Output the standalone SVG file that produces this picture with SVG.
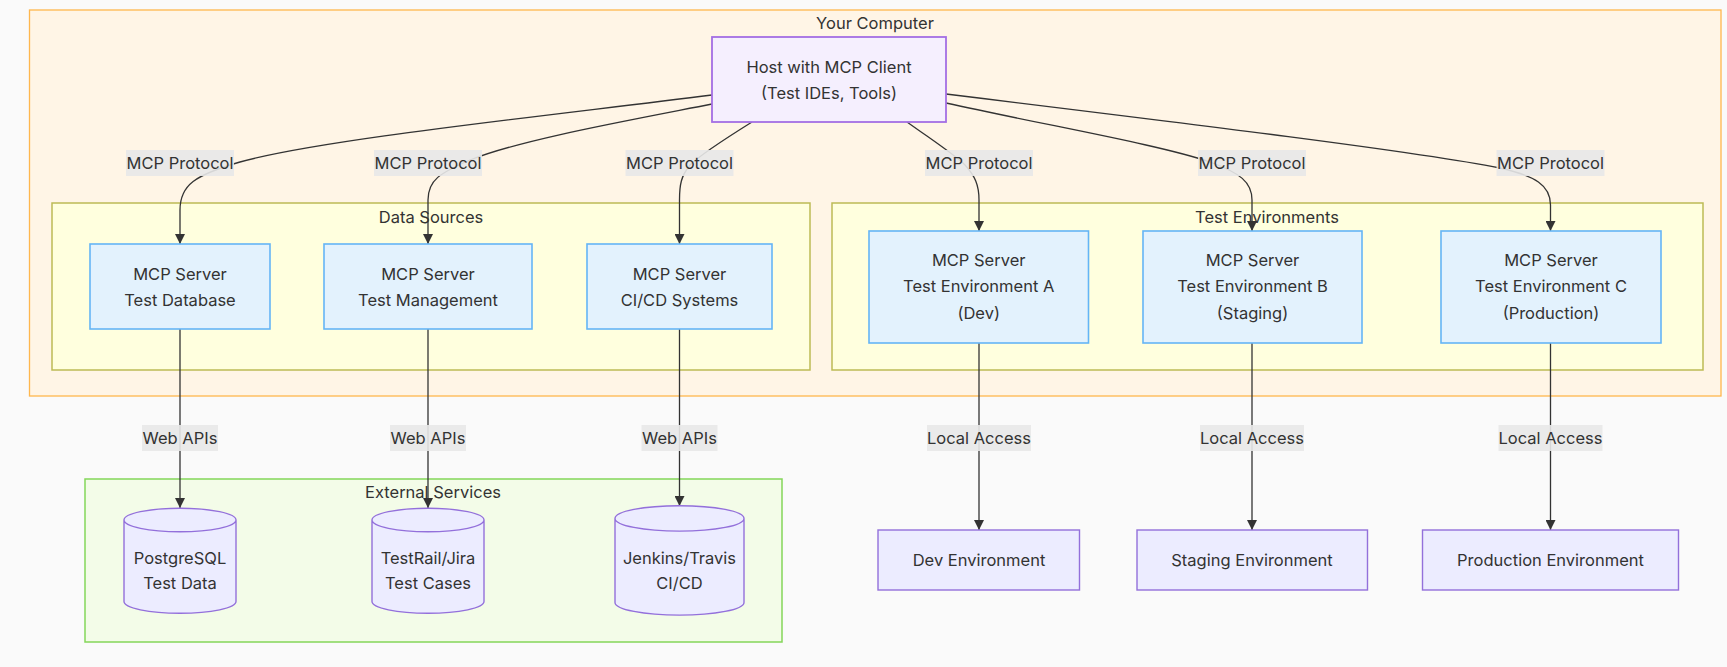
<svg xmlns="http://www.w3.org/2000/svg" width="1727" height="667" viewBox="0 0 1727 667">
<defs>
<marker id="arrow" viewBox="0 0 10 10" refX="10" refY="5" markerUnits="userSpaceOnUse" markerWidth="10" markerHeight="10" orient="auto">
<path d="M0,0 L10,5 L0,10 z" fill="#333"/>
</marker>
</defs>
<style>
text{font-family:Inter,"Noto Sans","Liberation Sans",sans-serif;font-size:16.5px;fill:#333;text-anchor:middle;dominant-baseline:central}
.edge{fill:none;stroke:#333;stroke-width:1.3;marker-end:url(#arrow)}
.lbl{fill:#e8e8e8;opacity:0.9}
.srv{fill:#e3f2fd;stroke:#64b5f6;stroke-width:1.6}
.ext{fill:#ececff;stroke:#9370db;stroke-width:1.4}
.cl{fill:#ffffde;stroke:#bdbb55;stroke-width:1.5}
</style>
<rect width="1727" height="667" fill="#fafafa"/>
<g id="cluster-your-computer">
<rect x="29.5" y="10" width="1691.5" height="386" fill="#fff5e6" stroke="#ffb74d" stroke-width="1.3"/>
<text x="875" y="23">Your Computer</text>
</g>
<g id="cluster-data-sources">
<rect class="cl" x="52" y="203" width="758" height="167"/>
<text x="431" y="217">Data Sources</text>
</g>
<g id="cluster-test-environments">
<rect class="cl" x="832" y="203" width="871" height="167"/>
<text x="1267" y="217">Test Environments</text>
</g>
<g id="cluster-external-services">
<rect x="85" y="479" width="697" height="163" fill="#f3fce8" stroke="#84d65a" stroke-width="1.5"/>
<text x="433" y="492">External Services</text>
</g>
<g id="connectors">
<path class="edge" d="M712,95 C520,119 320,140 240,162 C195,175 180,185 180,210 L180,244"/>
<path class="edge" d="M712,104 C620,122 520,140 470,160 C440,173 428,180 428,200 L428,244"/>
<path class="edge" d="M752,122 C720,142 700,155 690,165 C681,176 679.5,185 679.5,200 L679.5,244"/>
<path class="edge" d="M907,122 C935,142 955,155 965,165 C975,176 979,185 979,200 L979,231"/>
<path class="edge" d="M946,103 C1060,128 1160,145 1210,162 C1240,173 1252,182 1252,200 L1252,231"/>
<path class="edge" d="M946,94 C1200,125 1420,152 1500,168 C1535,176 1550.5,185 1550.5,205 L1550.5,231"/>
<path class="edge" d="M180,329 L180,508"/>
<path class="edge" d="M428,329 L428,508"/>
<path class="edge" d="M679.5,329 L679.5,506"/>
<path class="edge" d="M979,343 L979,530"/>
<path class="edge" d="M1252,343 L1252,530"/>
<path class="edge" d="M1550.5,343 L1550.5,530"/>
<g id="edge-labels">
<rect class="lbl" x="126" y="150" width="108" height="26"/><text x="180" y="163">MCP Protocol</text>
<rect class="lbl" x="374" y="150" width="108" height="26"/><text x="428" y="163">MCP Protocol</text>
<rect class="lbl" x="625.5" y="150" width="108" height="26"/><text x="679.5" y="163">MCP Protocol</text>
<rect class="lbl" x="925" y="150" width="108" height="26"/><text x="979" y="163">MCP Protocol</text>
<rect class="lbl" x="1198" y="150" width="108" height="26"/><text x="1252" y="163">MCP Protocol</text>
<rect class="lbl" x="1496.5" y="150" width="108" height="26"/><text x="1550.5" y="163">MCP Protocol</text>
<rect class="lbl" x="142" y="425" width="76" height="26"/><text x="180" y="438">Web APIs</text>
<rect class="lbl" x="390" y="425" width="76" height="26"/><text x="428" y="438">Web APIs</text>
<rect class="lbl" x="641.5" y="425" width="76" height="26"/><text x="679.5" y="438">Web APIs</text>
<rect class="lbl" x="927" y="425" width="104" height="26"/><text x="979" y="438">Local Access</text>
<rect class="lbl" x="1200" y="425" width="104" height="26"/><text x="1252" y="438">Local Access</text>
<rect class="lbl" x="1498.5" y="425" width="104" height="26"/><text x="1550.5" y="438">Local Access</text>
</g>
</g>
<g id="host">
<rect x="712" y="37" width="234" height="85" fill="#f5effe" stroke="#a46ee4" stroke-width="1.8"/>
<text x="829" y="67">Host with MCP Client</text>
<text x="829" y="93">(Test IDEs, Tools)</text>
</g>
<g id="srv-test-database">
<rect class="srv" x="90" y="244" width="180" height="85"/>
<text x="180" y="274">MCP Server</text>
<text x="180" y="300">Test Database</text>
</g>
<g id="srv-test-management">
<rect class="srv" x="324" y="244" width="208" height="85"/>
<text x="428" y="274">MCP Server</text>
<text x="428" y="300">Test Management</text>
</g>
<g id="srv-cicd">
<rect class="srv" x="587" y="244" width="185" height="85"/>
<text x="679.5" y="274">MCP Server</text>
<text x="679.5" y="300">CI/CD Systems</text>
</g>
<g id="srv-env-a">
<rect class="srv" x="869" y="231" width="219.5" height="112"/>
<text x="978.7" y="260">MCP Server</text>
<text x="978.7" y="286">Test Environment A</text>
<text x="978.7" y="313">(Dev)</text>
</g>
<g id="srv-env-b">
<rect class="srv" x="1143" y="231" width="219" height="112"/>
<text x="1252.5" y="260">MCP Server</text>
<text x="1252.5" y="286">Test Environment B</text>
<text x="1252.5" y="313">(Staging)</text>
</g>
<g id="srv-env-c">
<rect class="srv" x="1441" y="231" width="220" height="112"/>
<text x="1551" y="260">MCP Server</text>
<text x="1551" y="286">Test Environment C</text>
<text x="1551" y="313">(Production)</text>
</g>
<g id="db-postgres">
<path class="ext" d="M124,520 a56,11.8 0 0,0 112,0 a56,11.8 0 0,0 -112,0 l0,81.5 a56,11.8 0 0,0 112,0 l0,-81.5"/>
<text x="180" y="558">PostgreSQL</text>
<text x="180" y="583">Test Data</text>
</g>
<g id="db-testrail">
<path class="ext" d="M372,520 a56,11.8 0 0,0 112,0 a56,11.8 0 0,0 -112,0 l0,81.5 a56,11.8 0 0,0 112,0 l0,-81.5"/>
<text x="428" y="558">TestRail/Jira</text>
<text x="428" y="583">Test Cases</text>
</g>
<g id="db-jenkins">
<path class="ext" d="M615,518.4 a64.5,12.7 0 0,0 129,0 a64.5,12.7 0 0,0 -129,0 l0,84 a64.5,12.7 0 0,0 129,0 l0,-84"/>
<text x="679.5" y="558">Jenkins/Travis</text>
<text x="679.5" y="583">CI/CD</text>
</g>
<g id="env-dev">
<rect class="ext" x="878" y="530" width="201.5" height="60"/>
<text x="979" y="560">Dev Environment</text>
</g>
<g id="env-staging">
<rect class="ext" x="1137" y="530" width="230.5" height="60"/>
<text x="1252" y="560">Staging Environment</text>
</g>
<g id="env-production">
<rect class="ext" x="1422.5" y="530" width="256" height="60"/>
<text x="1550.5" y="560">Production Environment</text>
</g>
</svg>
